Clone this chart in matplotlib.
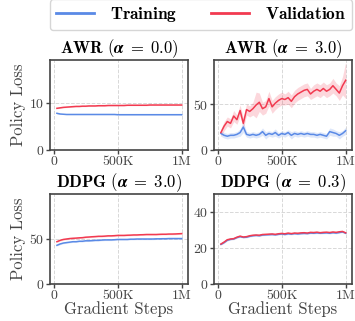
import numpy as np
import matplotlib
matplotlib.use('Agg')
import matplotlib.pyplot as plt
from matplotlib.ticker import FixedLocator, FixedFormatter

plt.rcParams['font.family'] = 'serif'
plt.rcParams['font.serif'] = ['cmr10', 'DejaVu Serif']
plt.rcParams['mathtext.fontset'] = 'cm'
plt.rcParams['axes.unicode_minus'] = False
plt.rcParams['axes.formatter.use_mathtext'] = True

steps = np.arange(25_000, 1_000_001, 25_000)

# AWR (alpha = 0.0)
awr0_train = [7.75, 7.6, 7.55, 7.5, 7.5, 7.5, 7.5, 7.5, 7.5, 7.5, 7.5, 7.5, 7.5, 7.5,
              7.5, 7.5, 7.5, 7.5, 7.5, 7.45, 7.45, 7.45, 7.45, 7.45, 7.45, 7.45, 7.45,
              7.45, 7.45, 7.45, 7.45, 7.45, 7.45, 7.45, 7.45, 7.45, 7.45, 7.45, 7.45, 7.45]
awr0_val = [8.8, 8.9, 9.0, 9.05, 9.1, 9.15, 9.2, 9.2, 9.25, 9.25, 9.3, 9.3, 9.3, 9.35,
            9.35, 9.35, 9.4, 9.4, 9.4, 9.4, 9.4, 9.4, 9.45, 9.45, 9.45, 9.45, 9.45,
            9.45, 9.45, 9.5, 9.5, 9.5, 9.5, 9.5, 9.5, 9.5, 9.5, 9.5, 9.5, 9.5]
awr0_train_sd = [0.15] + [0.05] * 39
awr0_val_sd = [0.1] * 40

# AWR (alpha = 3.0)
awr3_train = [18, 16, 15, 16, 16, 17, 19, 25, 17, 16, 17, 16, 17, 20, 16, 18, 17, 19,
              16, 18, 17, 19, 16, 18, 17, 18, 17, 18, 17, 17, 16, 17, 16, 15, 20, 19,
              18, 16, 18, 21]
awr3_val = [19, 26, 31, 29, 37, 33, 43, 29, 44, 42, 45, 49, 52, 45, 47, 56, 47, 51,
            54, 56, 55, 57, 53, 58, 61, 63, 65, 66, 61, 64, 66, 64, 67, 64, 66, 70,
            66, 62, 70, 76]
awr3_train_sd = [3, 3, 3, 3, 3, 3, 4, 6, 3, 3, 3, 3, 3, 4, 4, 3, 3, 4, 3, 3, 3, 3, 4,
                 3, 3, 3, 3, 3, 3, 3, 3, 3, 3, 3, 4, 4, 3, 4, 3, 4]
awr3_val_sd = [4, 5, 5, 5, 6, 5, 6, 6, 6, 6, 7, 14, 10, 7, 7, 8, 7, 7, 7, 7, 6, 7, 7,
               7, 7, 7, 7, 7, 6, 7, 7, 7, 7, 7, 7, 8, 7, 8, 10, 20]

# DDPG (alpha = 3.0)
ddpg3_train = [43, 44.5, 45.5, 46, 46.5, 47, 47, 47.5, 47.5, 48, 48, 48.2, 48.5, 48.5,
               48.8, 49, 49, 49, 49.2, 49.5, 49.5, 49.5, 49.5, 49.8, 49.8, 50, 50, 50,
               50, 50, 50, 50.2, 50.2, 50.3, 50.3, 50.5, 50.5, 50.5, 50.5, 50.5]
ddpg3_val = [47, 48.5, 49.5, 50, 50.5, 50.8, 51, 51.3, 51.5, 52, 52.2, 52.5, 52.7, 53,
             53, 53.2, 53.5, 53.5, 53.7, 54, 54, 54, 54.2, 54.3, 54.5, 54.5, 54.7, 54.8,
             55, 55, 55, 55, 55.2, 55.3, 55.3, 55.5, 55.5, 55.6, 55.8, 56]
ddpg3_train_sd = [0.8] * 40
ddpg3_val_sd = [0.8] * 40

# DDPG (alpha = 0.3)
ddpg03_train = [22, 23, 24.3, 24.8, 25, 25.8, 26.3, 25.9, 26, 26.5, 26.8, 27, 26.8,
                27.2, 27.3, 27.4, 27.5, 27.3, 27.6, 27.8, 27.5, 27.9, 27.7, 28, 27.8,
                28, 28.1, 28, 28.3, 28.2, 28.4, 28.2, 28.3, 28.4, 28.2, 28.5, 28.3,
                28.6, 28.9, 28.2]
ddpg03_val = [22.2, 23.3, 24.6, 25, 25.2, 26, 26.6, 26.1, 26.3, 26.8, 27.1, 27.2, 27.1,
              27.5, 27.6, 27.7, 27.8, 27.6, 27.9, 28.1, 27.9, 28.3, 28, 28.3, 28.2,
              28.4, 28.5, 28.3, 28.7, 28.6, 28.8, 28.5, 28.7, 28.8, 28.6, 28.9, 28.7,
              29, 29.2, 28.4]
ddpg03_train_sd = [0.4] * 40
ddpg03_val_sd = [0.4] * 40

panels = [
    (r'$\mathbf{AWR}\ (\boldsymbol{\alpha}\;\mathbf{=}\;\mathbf{0.0})$', awr0_train,
     awr0_train_sd, awr0_val, awr0_val_sd, (0, 19), [0, 10]),
    (r'$\mathbf{AWR}\ (\boldsymbol{\alpha}\;\mathbf{=}\;\mathbf{3.0})$', awr3_train,
     awr3_train_sd, awr3_val, awr3_val_sd, (0, 98), [0, 50]),
    (r'$\mathbf{DDPG}\ (\boldsymbol{\alpha}\;\mathbf{=}\;\mathbf{3.0})$', ddpg3_train,
     ddpg3_train_sd, ddpg3_val, ddpg3_val_sd, (0, 100), [0, 50]),
    (r'$\mathbf{DDPG}\ (\boldsymbol{\alpha}\;\mathbf{=}\;\mathbf{0.3})$', ddpg03_train,
     ddpg03_train_sd, ddpg03_val, ddpg03_val_sd, (0, 50), [0, 20, 40]),
]

blue = '#5a8ae6'
red = '#f23a50'

fig = plt.figure(figsize=(3.55, 3.21), dpi=100)
boxes = [(50, 60, 138, 90), (214, 60, 138, 90), (50, 194, 138, 90), (214, 194, 138, 90)]
W, H = 355, 321
axes = []
for (x0, y0, w, h) in boxes:
    axes.append(fig.add_axes([x0 / W, 1 - (y0 + h) / H, w / W, h / H]))

for i, (ax, p) in enumerate(zip(axes, panels)):
    title, tr, trsd, va, vasd, ylim, yt = p
    tr, trsd, va, vasd = map(np.array, (tr, trsd, va, vasd))
    ax.fill_between(steps, tr - trsd, tr + trsd, color=blue, alpha=0.2, lw=0)
    ax.fill_between(steps, va - vasd, va + vasd, color=red, alpha=0.2, lw=0)
    l1, = ax.plot(steps, tr, color=blue, lw=1.1, label=r'$\mathbf{Training}$')
    l2, = ax.plot(steps, va, color=red, lw=1.1, label=r'$\mathbf{Validation}$')
    ax.set_xlim(-29_000, 1_049_000)
    ax.set_ylim(*ylim)
    ax.xaxis.set_major_locator(FixedLocator([0, 500_000, 1_000_000]))
    ax.xaxis.set_major_formatter(FixedFormatter(['0', '500K', '1M']))
    ax.set_yticks(yt)
    ax.grid(True, ls='--', color='#d8d8d8', lw=0.7)
    ax.set_axisbelow(True)
    for s in ax.spines.values():
        s.set_color('#444444')
        s.set_linewidth(1.2)
    ax.tick_params(labelsize=10, colors='#444444', length=3, width=1, pad=1)
    ax.set_title(title, fontsize=12, pad=4)
    if i % 2 == 0:
        ax.set_ylabel('Policy Loss', fontsize=12, color='#444444', labelpad=2)
    if i >= 2:
        ax.set_xlabel('Gradient Steps', fontsize=12, color='#444444', labelpad=0)

fig.legend(handles=[l1, l2], loc='upper left', mode='expand',
           bbox_to_anchor=(50 / W, 0, 302 / W, 1.003),
           ncol=2, fontsize=12.5, frameon=True, fancybox=True, edgecolor='#cccccc',
           handlelength=2.2, borderpad=0.35, handletextpad=0.9, borderaxespad=0)
for line in fig.legends[0].get_lines():
    line.set_linewidth(2)

fig.savefig('out.png', dpi=100)
